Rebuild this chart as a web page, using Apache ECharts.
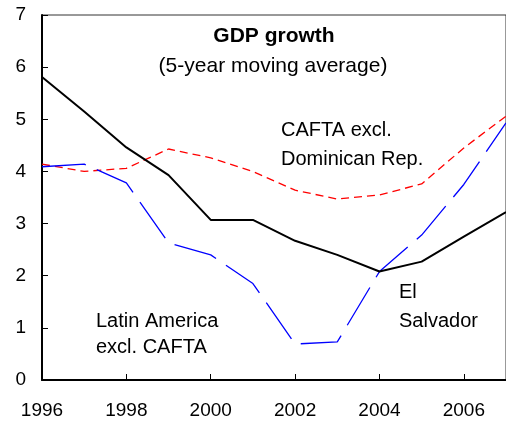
<!DOCTYPE html>
<html>
<head>
<meta charset="utf-8">
<script src="https://cdn.jsdelivr.net/npm/echarts@6/dist/echarts.min.js"></script>
<style>
  html, body { margin: 0; padding: 0; background: #fff; }
  #main { width: 506px; height: 421px; }
</style>
</head>
<body>
<div id="main"></div>
<script>
// years on the x axis
var years = [1996, 1997, 1998, 1999, 2000, 2001, 2002, 2003, 2004, 2005, 2006, 2007];
// 5-year moving average GDP growth, %
var elSalvador = [5.81, 5.15, 4.46, 3.93, 3.07, 3.07, 2.67, 2.40, 2.08, 2.27, 2.75, 3.22];
var caftaExDR = [4.14, 4.00, 4.06, 4.43, 4.26, 4.00, 3.64, 3.47, 3.55, 3.76, 4.45, 5.06];
var latAmExCafta = [4.09, 4.14, 3.78, 2.63, 2.40, 1.85, 0.69, 0.73, 2.08, 2.78, 3.75, 4.93];

function pairs(vals) {
    return years.map(function (y, i) { return [y, vals[i]]; });
}

var myChart = echarts.init(document.getElementById('main'));

var txt = 'Liberation Sans';

var option = {
    animation: false,
    textStyle: { fontFamily: txt },
    grid: {
        left: 42,
        right: -4,
        top: 15,
        bottom: 41,
        show: true,
        borderColor: '#333',
        borderWidth: 1
    },
    xAxis: {
        type: 'value',
        min: 1996,
        max: 2007,
        interval: 2,
        axisLine: { lineStyle: { color: '#000', width: 2 } },
        axisTick: { inside: true, length: 6, lineStyle: { color: '#000', width: 1 } },
        axisLabel: {
            color: '#000', fontSize: 19, margin: 21, fontFamily: txt,
            showMaxLabel: false,
            formatter: function (v) { return String(v); }
        },
        splitLine: { show: false }
    },
    yAxis: {
        type: 'value',
        min: 0,
        max: 7,
        interval: 1,
        axisLine: { show: true, lineStyle: { color: '#000', width: 2 } },
        axisTick: { show: true, inside: true, length: 6, lineStyle: { color: '#000', width: 1 } },
        axisLabel: { color: '#000', fontSize: 19, margin: 16, fontFamily: txt },
        splitLine: { show: false }
    },
    series: [
        {
            name: 'El Salvador',
            type: 'line',
            data: pairs(elSalvador),
            showSymbol: false,
            lineStyle: { color: '#000', width: 2 },
            z: 3
        },
        {
            name: 'CAFTA excl. Dominican Rep.',
            type: 'line',
            data: pairs(caftaExDR),
            showSymbol: false,
            lineStyle: { color: '#ff0000', width: 1.3, type: [8, 5] },
            z: 2
        },
        {
            name: 'Latin America excl. CAFTA',
            type: 'line',
            data: pairs(latAmExCafta),
            showSymbol: false,
            lineStyle: { color: '#0000ff', width: 1.3, type: [44, 12] },
            z: 2
        }
    ],
    graphic: [
        { type: 'text', x: 274, y: 36, style: { text: 'GDP growth', font: 'bold 21px "Liberation Sans"', fill: '#000', align: 'center', verticalAlign: 'middle' } },
        { type: 'text', x: 273, y: 66, style: { text: '(5-year moving average)', font: '21px "Liberation Sans"', fill: '#000', align: 'center', verticalAlign: 'middle' } },
        { type: 'text', x: 281, y: 130, style: { text: 'CAFTA excl.', font: '20px "Liberation Sans"', fill: '#000', verticalAlign: 'middle' } },
        { type: 'text', x: 281, y: 159, style: { text: 'Dominican Rep.', font: '20px "Liberation Sans"', fill: '#000', verticalAlign: 'middle' } },
        { type: 'text', x: 399, y: 292, style: { text: 'El', font: '20px "Liberation Sans"', fill: '#000', verticalAlign: 'middle' } },
        { type: 'text', x: 399, y: 321, style: { text: 'Salvador', font: '20px "Liberation Sans"', fill: '#000', verticalAlign: 'middle' } },
        { type: 'text', x: 96, y: 321, style: { text: 'Latin America', font: '20px "Liberation Sans"', fill: '#000', verticalAlign: 'middle' } },
        { type: 'text', x: 96, y: 347, style: { text: 'excl. CAFTA', font: '20px "Liberation Sans"', fill: '#000', verticalAlign: 'middle' } }
    ]
};

myChart.setOption(option);
</script>
</body>
</html>
